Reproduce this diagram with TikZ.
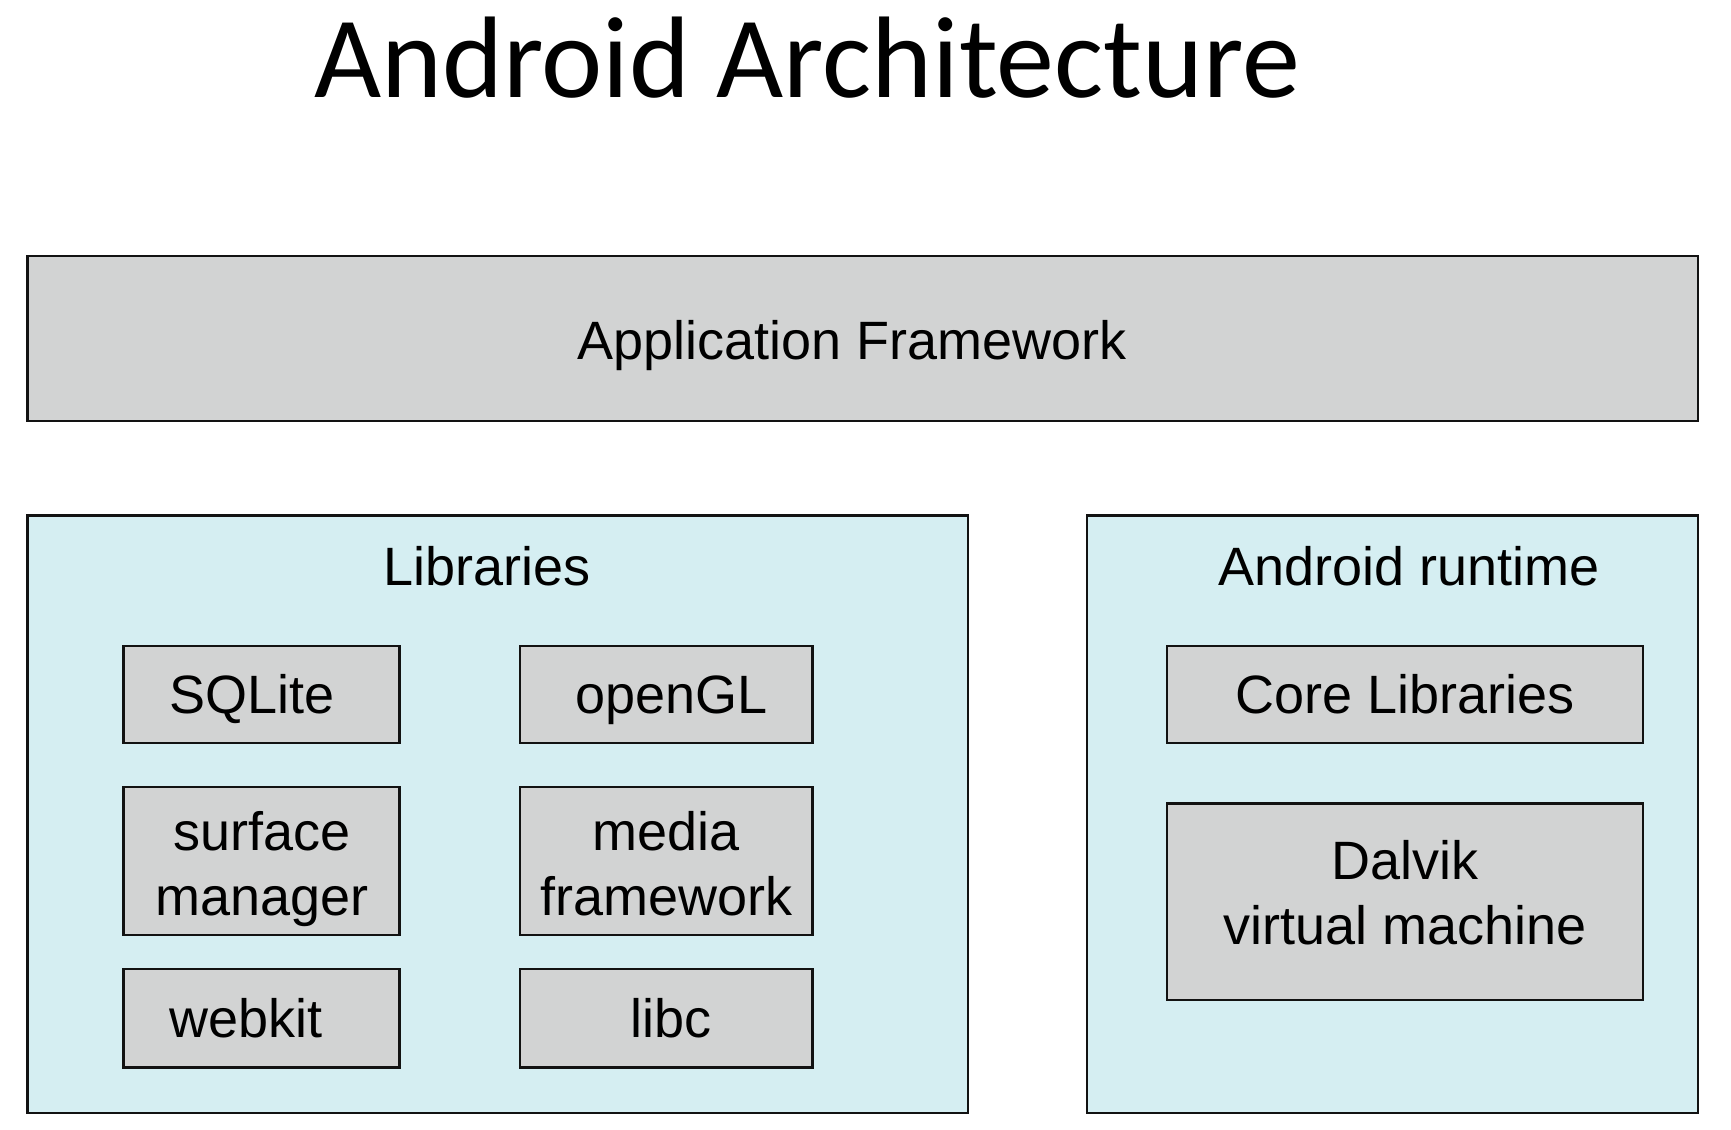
\documentclass[tikz,border=0pt]{standalone}
\usepackage{fontspec}
\setmainfont{Liberation Sans}
\newfontfamily\titlefont{Carlito}
\definecolor{boxgray}{HTML}{D2D3D3}
\definecolor{layerblue}{HTML}{D5EEF2}
\newcommand{\topstrut}[2]{\rule[-#2]{0pt}{\dimexpr#1+#2\relax}}
\begin{document}
\begin{tikzpicture}[x=0.5pt,y=-0.5pt,
  frame/.style={draw=black!93, line width=1.3pt, inner sep=0pt, outer sep=0pt},
  layer/.style={frame, fill=layerblue},
  comp/.style={frame, fill=boxgray, font=\fontsize{27}{32.5}\selectfont, align=center},
  oneline/.style={text height=19.3pt, text depth=0pt},
  lbl/.style={anchor=base, font=\fontsize{27}{32.5}\selectfont, inner sep=0pt}]
\useasboundingbox (0,0) rectangle (1731,1130);
\node[anchor=base, inner sep=0pt, font=\titlefont\fontsize{58}{70}\selectfont] (title) at (807,97) {Android Architecture};
\node[comp, text height=21.3pt, text depth=0pt, minimum width=835.2pt, minimum height=82.5pt] (appfw) at (862.8,338.5) {Application Framework\hspace*{11pt}};
% layers
\node[layer, minimum width=470.2pt, minimum height=298.7pt] (libs) at (497.8,814.3) {};
\node[layer, minimum width=305.5pt, minimum height=298.7pt] (runtime) at (1392.5,814.3) {};
\node[lbl] (libslbl) at (487,585) {Libraries};
\node[lbl] (rtlbl) at (1409,585) {Android runtime};
% library components
\node[comp, oneline, minimum width=138pt, minimum height=48.5pt] (sqlite) at (261.6,694.5) {SQLite\hspace*{10pt}};
\node[comp, oneline, minimum width=146.25pt, minimum height=48.5pt] (opengl) at (666.3,694.5) {\hspace*{5pt}openGL};
\node[comp, minimum width=138pt, minimum height=74pt] (surface) at (261.6,861) {\rule{0pt}{27.5pt}surface\\manager\rule[-6pt]{0pt}{6pt}};
\node[comp, minimum width=146.25pt, minimum height=74pt] (media) at (666.3,861) {\rule{0pt}{27.5pt}media\\framework\rule[-6pt]{0pt}{6pt}};
\node[comp, oneline, minimum width=138pt, minimum height=49.3pt] (webkit) at (261.6,1018.3) {webkit\hspace*{16pt}};
\node[comp, oneline, minimum width=146.25pt, minimum height=49.3pt] (libc) at (666.3,1018.3) {\hspace*{5pt}libc};
% runtime components
\node[comp, oneline, minimum width=238pt, minimum height=48.5pt] (core) at (1405,694.5) {Core Libraries};
\node[comp, minimum width=238pt, minimum height=98.2pt] (dalvik) at (1405,901.9) {\rule{0pt}{21pt}Dalvik\\virtual machine\rule[-10.5pt]{0pt}{10.5pt}};
\end{tikzpicture}
\end{document}
